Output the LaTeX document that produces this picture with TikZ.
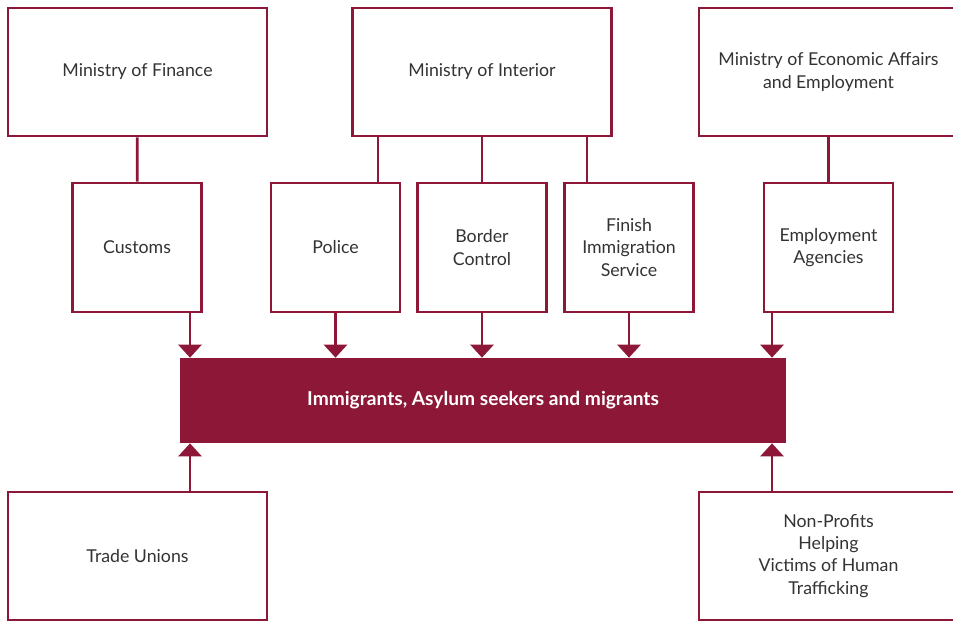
\documentclass[tikz,border=0pt]{standalone}
\usepackage{fontspec}
\setmainfont{Lato}
\usetikzlibrary{positioning,calc,arrows.meta}
\definecolor{colorBOX}{HTML}{8C1736}
\colorlet{colorTXT}{black!80}
\tikzset{
   every path/.style={>={Triangle[width=0.46cm,length=0.26cm]}},
   org/.style={draw=colorBOX,line width=1.6pt,fill=white,text=colorTXT,align=center,
      minimum width=5.18cm,minimum height=2.56cm,font=\fontsize{10.1}{12.6}\selectfont},
   unit/.style={org,minimum width=2.58cm,minimum height=2.58cm},
   target/.style={fill=colorBOX,text=white,minimum width=12.12cm,minimum height=1.7cm,
      font=\fontsize{10.9}{13}\selectfont\bfseries},
   link/.style={-,draw=colorBOX,line width=1.6pt},
   flow/.style={->,draw=colorBOX,line width=1.6pt},
}

\begin{document}
\begin{tikzpicture}[x=0.02cm,y=-0.02cm]
      \useasboundingbox (0,0) rectangle (953,620);
      % ministries
      \node[org] (mof) at (137.5,72) {Ministry of Finance};
      \node[org] (moi) at (482,72) {Ministry of Interior};
      \node[org] (mee) at (828.5,72) {Ministry of Economic Affairs\\and Employment};
      % agencies
      \node[unit] (cus) at (137,247.5) {Customs};
      \node[unit] (pol) at (335.5,247.5) {Police};
      \node[unit] (bor) at (482,247.5) {Border\\Control};
      \node[unit] (fis) at (629,247.5) {Finish\\Immigration\\Service};
      \node[unit] (ema) at (828.5,247.5) {Employment\\Agencies};
      % target group
      \node[target] (imm) at (483,400.5) {Immigrants, Asylum seekers and migrants};
      % others
      \node[org] (tru) at (137.5,556) {Trade Unions};
      \node[org] (npo) at (828.5,556) {Non-Profits\\Helping\\Victims of Human\\Trafficking};
      \draw[link] (mof) -- (cus);
      \draw[link] ([xshift=-2.08cm]moi.south) -- ([xshift=-2.08cm]moi.south |- pol.north);
      \draw[link] (moi) -- (bor);
      \draw[link] ([xshift=2.1cm]moi.south) -- ([xshift=2.1cm]moi.south |- fis.north);
      \draw[link] (mee) -- (ema);
      \draw[flow] ([xshift=1.06cm]cus.south) -- ([xshift=1.06cm]cus.south |- imm.north);
      \draw[flow] (pol) -- (pol |- imm.north);
      \draw[flow] (bor) -- (bor |- imm.north);
      \draw[flow] (fis) -- (fis |- imm.north);
      \draw[flow] ([xshift=-1.13cm]ema.south) -- ([xshift=-1.13cm]ema.south |- imm.north);
      \draw[flow] ([xshift=1.05cm]tru.north) -- ([xshift=1.05cm]tru.north |- imm.south);
      \draw[flow] ([xshift=-1.13cm]npo.north) -- ([xshift=-1.13cm]npo.north |- imm.south);
    \end{tikzpicture}
\end{document}
